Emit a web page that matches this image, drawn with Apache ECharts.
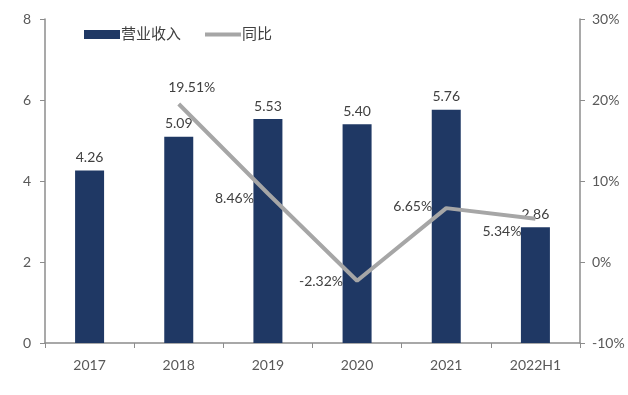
<!DOCTYPE html>
<html><head><meta charset="utf-8">
<script src="https://cdn.jsdelivr.net/npm/echarts@6/dist/echarts.min.js"></script>
<style>html,body{margin:0;padding:0;background:#fff}#c{width:628px;height:395px}</style>
</head><body><div id="c"></div>
<script>
const categories = ['2017','2018','2019','2020','2021','2022H1'];
const revenue = [4.26, 5.09, 5.53, 5.40, 5.76, 2.86];
const yoy = [null, 19.51, 8.46, -2.32, 6.65, 5.34];
const yoyLabelPos = [null, 'top', 'left', 'left', 'left', 'left'];
const yoyLabelOffset = [null, [13, 5], [0, 5], [0, 1], [0, -2], [0, 13]];

const font = 'Lato, "Noto Sans CJK SC", sans-serif';
const chart = echarts.init(document.getElementById('c'));
chart.setOption({
  animation: false,
  grid: {left: 45, right: 48, top: 19, bottom: 52},
  legend: {
    left: 79, top: 22, itemGap: 24, itemWidth: 36, itemHeight: 9,
    textStyle: {fontFamily: font, fontSize: 15, color: '#404040', padding: [0,0,0,-4]},
    data: [
      {name: '营业收入', icon: 'rect'},
      {name: '同比', icon: 'path://M0,0 L36,0 L36,4 L0,4 Z'}
    ]
  },
  xAxis: {
    type: 'category', data: categories,
    axisLine: {lineStyle: {color: '#8c8c8c', width: 1.5}},
    axisTick: {show: true, length: 5, lineStyle: {color: '#8c8c8c'}},
    axisLabel: {fontFamily: font, fontSize: 14, color: '#595959', margin: 15}
  },
  yAxis: [{
    type: 'value', min: 0, max: 8, interval: 2,
    axisLine: {show: true, lineStyle: {color: '#8c8c8c', width: 1.5}},
    axisTick: {show: true, length: 5, lineStyle: {color: '#8c8c8c'}},
    splitLine: {show: false},
    axisLabel: {fontFamily: font, fontSize: 14, color: '#595959', margin: 14}
  }, {
    type: 'value', min: -10, max: 30, interval: 10, position: 'right',
    axisLine: {show: true, lineStyle: {color: '#8c8c8c', width: 1.5}},
    axisTick: {show: true, length: 5, lineStyle: {color: '#8c8c8c'}},
    splitLine: {show: false},
    axisLabel: {fontFamily: font, fontSize: 14, color: '#595959', margin: 12, formatter: '{value}%'}
  }],
  series: [{
    name: '营业收入', type: 'bar', data: revenue, barWidth: 29,
    itemStyle: {color: '#1f3864'},
    label: {show: true, position: 'top', distance: 6, fontFamily: font, fontSize: 14, color: '#404040',
      formatter: p => p.value.toFixed(2)}
  }, {
    name: '同比', type: 'line', yAxisIndex: 1,
    data: yoy.map((v, i) => v === null ? null : {value: v, label: {position: yoyLabelPos[i], offset: yoyLabelOffset[i]}}),
    symbol: 'circle', symbolSize: 0.1, showSymbol: true,
    lineStyle: {color: '#a6a6a6', width: 4}, itemStyle: {color: '#a6a6a6'},
    label: {show: true, fontFamily: font, fontSize: 14, color: '#404040', distance: 14,
      formatter: p => p.value.toFixed(2) + '%'}
  }]
});
</script></body></html>
